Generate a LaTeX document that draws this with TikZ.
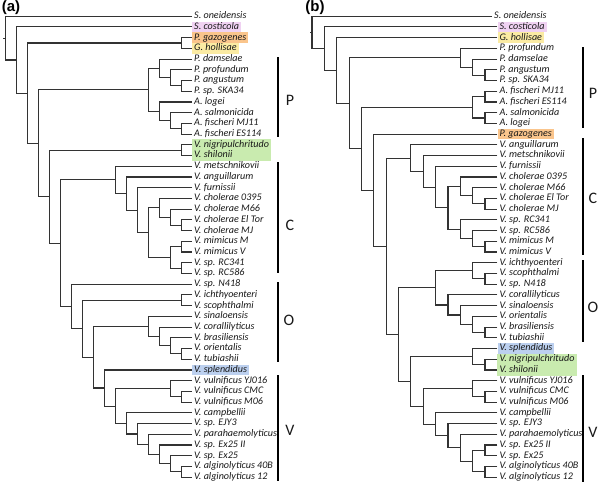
\documentclass[tikz,border=0pt]{standalone}
\usepackage{fontspec}
\setmainfont{Carlito}
\newfontfamily\panelfont{Liberation Sans}
\usetikzlibrary{calc,backgrounds}
\definecolor{brc}{HTML}{333333}
\definecolor{hlpink}{HTML}{F0D2F2}
\definecolor{hlorange}{HTML}{FAC58C}
\definecolor{hlyellow}{HTML}{FBEBA3}
\definecolor{hlgreen}{HTML}{C9EBAF}
\definecolor{hlblue}{HTML}{BCD0EF}
\tikzset{
  br/.style={draw=brc, line width=1.1pt, line join=miter},
  leaf/.style={anchor=west, inner xsep=2pt, inner ysep=0pt, minimum height=10.72pt,
    text height=6.7pt, text depth=1.9pt, font=\fontsize{10.1}{11}\selectfont\itshape, text=black!90},
  bar/.style={line width=2.2pt, draw=black},
  grp/.style={font=\fontsize{16}{16}\selectfont, text=black!90, inner sep=0pt},
  panel/.style={font=\panelfont\bfseries\fontsize{15}{15}\selectfont, inner sep=0pt}
}
\newcommand\LA[3][]{\node[leaf,#1] (a#2) at (192,{16.2+10.72*(#2-1)}) {#3};}
\newcommand\LB[3][]{\node[leaf,#1] (b#2) at (497.4,{16.2+10.72*(#2-1)}) {#3};}
\newcommand\mkA[4]{\path let \p1=(#3), \p2=(#4) in coordinate (#1) at ({(192.5-11*#2)*1pt},{0.5*\y1+0.5*\y2});\draw[br] (#3) -| (#1) |- (#4);}
\newcommand\mkB[4]{\path let \p1=(#3), \p2=(#4) in coordinate (#1) at ({(497.4-12.36*#2)*1pt},{0.5*\y1+0.5*\y2});\draw[br] (#3) -| (#1) |- (#4);}
\begin{document}
\begin{tikzpicture}[x=1pt,y=-1pt]
\useasboundingbox (0,0) rectangle (600,483);
% ---------------- panel (a) ----------------
\node[panel] (pa) at (11,8) {(a)};
\LA{1}{S. oneidensis}
\LA[fill=hlpink]{2}{S. costicola}
\LA[fill=hlorange]{3}{P. gazogenes}
\LA[fill=hlyellow]{4}{G. hollisae}
\LA{5}{P. damselae}
\LA{6}{P. profundum}
\LA{7}{P. angustum}
\LA{8}{P. sp. SKA34}
\LA{9}{A. logei}
\LA{10}{A. salmonicida}
\LA{11}{A. fischeri MJ11}
\LA{12}{A. fischeri ES114}
\LA{13}{V. nigripulchritudo}
\LA{14}{V. shilonii}
\LA{15}{V. metschnikovii}
\LA{16}{V. anguillarum}
\LA{17}{V. furnissii}
\LA{18}{V. cholerae 0395}
\LA{19}{V. cholerae M66}
\LA{20}{V. cholerae El Tor}
\LA{21}{V. cholerae MJ}
\LA{22}{V. mimicus M}
\LA{23}{V. mimicus V}
\LA{24}{V. sp. RC341}
\LA{25}{V. sp. RC586}
\LA{26}{V. sp. N418}
\LA{27}{V. ichthyoenteri}
\LA{28}{V. scophthalmi}
\LA{29}{V. sinaloensis}
\LA{30}{V. corallilyticus}
\LA{31}{V. brasiliensis}
\LA{32}{V. orientalis}
\LA{33}{V. tubiashii}
\LA[fill=hlblue]{34}{V. splendidus}
\LA{35}{V. vulnificus YJ016}
\LA{36}{V. vulnificus CMC}
\LA{37}{V. vulnificus M06}
\LA{38}{V. campbellii}
\LA{39}{V. sp. EJY3}
\LA{40}{V. parahaemolyticus}
\LA{41}{V. sp. Ex25 II}
\LA{42}{V. sp. Ex25}
\LA{43}{V. alginolyticus 40B}
\LA{44}{V. alginolyticus 12}
\mkA{aGP}{1}{a3.west}{a4.west}
\mkA{aP1}{1}{a7.west}{a8.west}
\mkA{aP2}{2}{a6.west}{aP1}
\mkA{aP3}{3}{a5.west}{aP2}
\mkA{aP4}{1}{a11.west}{a12.west}
\mkA{aP5}{2}{a10.west}{aP4}
\mkA{aP6}{3}{a9.west}{aP5}
\mkA{aP}{4}{aP3}{aP6}
\mkA{aNS}{1}{a13.west}{a14.west}
\mkA{aC1}{1}{a20.west}{a21.west}
\mkA{aC2}{2}{a19.west}{aC1}
\mkA{aC3}{3}{a18.west}{aC2}
\mkA{aC4}{1}{a22.west}{a23.west}
\mkA{aC5}{1}{a24.west}{a25.west}
\mkA{aC6}{2}{aC4}{aC5}
\mkA{aC7}{4}{aC3}{aC6}
\mkA{aC8}{5}{a17.west}{aC7}
\mkA{aC9}{6}{a16.west}{aC8}
\mkA{aC}{7}{a15.west}{aC9}
\mkA{aO1}{1}{a27.west}{a28.west}
\mkA{aO2}{1}{a32.west}{a33.west}
\mkA{aO3}{2}{a31.west}{aO2}
\mkA{aO4}{3}{a30.west}{aO3}
\mkA{aO5}{4}{a29.west}{aO4}
\mkA{aV1}{1}{a36.west}{a37.west}
\mkA{aV2}{2}{a35.west}{aV1}
\mkA{aV3}{1}{a43.west}{a44.west}
\mkA{aV4}{2}{a42.west}{aV3}
\mkA{aV5}{3}{a41.west}{aV4}
\mkA{aV6}{4}{a40.west}{aV5}
\mkA{aV7}{5}{a39.west}{aV6}
\mkA{aV8}{6}{a38.west}{aV7}
\mkA{aM}{7}{aV2}{aV8}
\mkA{aL}{8}{a34.west}{aM}
\mkA{aJ}{9}{aO5}{aL}
\mkA{aI}{10}{aO1}{aJ}
\mkA{aH}{11}{a26.west}{aI}
\mkA{aF}{12}{aC}{aH}
\mkA{aE}{13}{aNS}{aF}
\mkA{aCC}{14}{aP}{aE}
\mkA{aB}{15}{aGP}{aCC}
\mkA{aA}{16}{a2.west}{aB}
\mkA{aR}{17}{a1.west}{aA}
\draw[br] (aR) -- ++(-2.5,0);
\draw[bar] (278,57) -- (278,137);
\draw[bar] (278,162) -- (278,273);
\draw[bar] (278,282) -- (278,362);
\draw[bar] (278,375) -- (278,481);
\node[grp] (gPa) at (290,100) {P};
\node[grp] (gCa) at (290,225) {C};
\node[grp] (gOa) at (289,320) {O};
\node[grp] (gVa) at (290,430) {V};
% ---------------- panel (b) ----------------
\node[panel] (pb) at (315,8) {(b)};
\node[leaf] (b1) at (492,16.2) {S. oneidensis};
\LB[fill=hlpink]{2}{S. costicola}
\LB[fill=hlyellow]{3}{G. hollisae}
\LB{4}{P. profundum}
\LB{5}{P. damselae}
\LB{6}{P. angustum}
\LB{7}{P. sp. SKA34}
\LB{8}{A. fischeri MJ11}
\LB{9}{A. fischeri ES114}
\LB{10}{A. salmonicida}
\LB{11}{A. logei}
\LB[fill=hlorange]{12}{P. gazogenes}
\LB{13}{V. anguillarum}
\LB{14}{V. metschnikovii}
\LB{15}{V. furnissii}
\LB{16}{V. cholerae 0395}
\LB{17}{V. cholerae M66}
\LB{18}{V. cholerae El Tor}
\LB{19}{V. cholerae MJ}
\LB{20}{V. sp. RC341}
\LB{21}{V. sp. RC586}
\LB{22}{V. mimicus M}
\LB{23}{V. mimicus V}
\LB{24}{V. ichthyoenteri}
\LB{25}{V. scophthalmi}
\LB{26}{V. sp. N418}
\LB{27}{V. corallilyticus}
\LB{28}{V. sinaloensis}
\LB{29}{V. orientalis}
\LB{30}{V. brasiliensis}
\LB{31}{V. tubiashii}
\LB[fill=hlblue]{32}{V. splendidus}
\LB{33}{V. nigripulchritudo}
\LB{34}{V. shilonii}
\LB{35}{V. vulnificus YJ016}
\LB{36}{V. vulnificus CMC}
\LB{37}{V. vulnificus M06}
\LB{38}{V. campbellii}
\LB{39}{V. sp. EJY3}
\LB{40}{V. parahaemolyticus}
\LB{41}{V. sp. Ex25 II}
\LB{42}{V. sp. Ex25}
\LB{43}{V. alginolyticus 40B}
\LB{44}{V. alginolyticus 12}
\mkB{bP1}{1}{b6.west}{b7.west}
\mkB{bP2}{2}{b5.west}{bP1}
\mkB{bP}{3}{b4.west}{bP2}
\mkB{bF1}{1}{b8.west}{b9.west}
\mkB{bF2}{1}{b10.west}{b11.west}
\mkB{bF}{2}{bF1}{bF2}
\mkB{bC1}{1}{b18.west}{b19.west}
\mkB{bC2}{2}{b17.west}{bC1}
\mkB{bC3}{3}{b16.west}{bC2}
\mkB{bC4}{1}{b22.west}{b23.west}
\mkB{bC5}{2}{b21.west}{bC4}
\mkB{bC6}{3}{b20.west}{bC5}
\mkB{bC7}{4}{bC3}{bC6}
\mkB{bC8}{5}{b15.west}{bC7}
\mkB{bC9}{6}{b14.west}{bC8}
\mkB{bC}{7}{b13.west}{bC9}
\mkB{bO1}{1}{b25.west}{b26.west}
\mkB{bO2}{2}{b24.west}{bO1}
\mkB{bO3}{1}{b30.west}{b31.west}
\mkB{bO4}{2}{b29.west}{bO3}
\mkB{bO5}{3}{b28.west}{bO4}
\mkB{bO6}{4}{b27.west}{bO5}
\mkB{bO}{5}{bO2}{bO6}
\mkB{bM1}{1}{b33.west}{b34.west}
\mkB{bM}{2}{b32.west}{bM1}
\mkB{bV1}{1}{b36.west}{b37.west}
\mkB{bV2}{2}{b35.west}{bV1}
\mkB{bV3}{1}{b41.west}{b42.west}
\mkB{bV4}{1}{b43.west}{b44.west}
\mkB{bV5}{2}{bV3}{bV4}
\mkB{bV6}{3}{b40.west}{bV5}
\mkB{bV7}{4}{b39.west}{bV6}
\mkB{bV8}{5}{b38.west}{bV7}
\mkB{bN}{6}{bV2}{bV8}
\mkB{bL}{7}{bM}{bN}
\mkB{bJ}{8}{bO}{bL}
\mkB{bH}{9}{bC}{bJ}
\mkB{bG}{10}{b12.west}{bH}
\mkB{bE}{11}{bF}{bG}
\mkB{bCC}{12}{bP}{bE}
\mkB{bB}{13}{b3.west}{bCC}
\mkB{bA}{14}{b2.west}{bB}
\mkB{bR}{15}{b1.west}{bA}
\draw[br] (bR) -- ++(-2.5,0);
\draw[bar] (583,47) -- (583,128);
\draw[bar] (583,138) -- (583,255);
\draw[bar] (583,260) -- (583,342);
\draw[bar] (583,375) -- (583,482);
\node[grp] (gPb) at (593,93) {P};
\node[grp] (gCb) at (593,198) {C};
\node[grp] (gOb) at (593,307) {O};
\node[grp] (gVb) at (593,432) {V};
% ---------------- background ----------------
\begin{scope}[on background layer]
\fill[white] (0,0) rectangle (600,483);
\fill[hlgreen] (a13.north west) rectangle (a13.east |- a14.south);
\fill[hlgreen] (b33.north west) rectangle (b33.east |- b34.south);
\end{scope}
\end{tikzpicture}
\end{document}
